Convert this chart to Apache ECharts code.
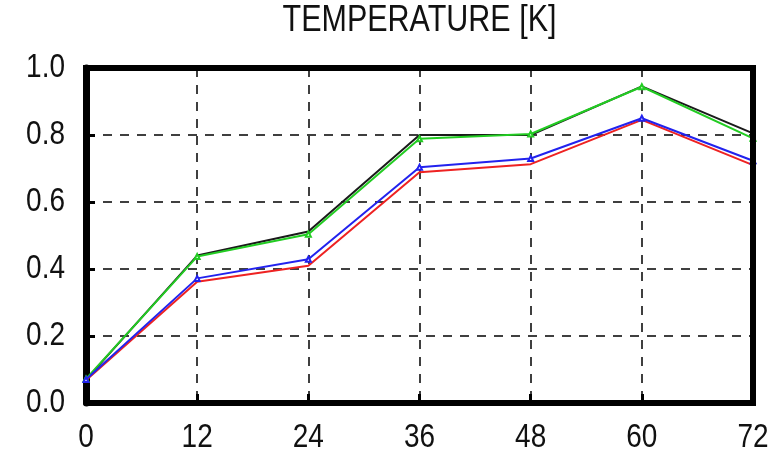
<!DOCTYPE html>
<html>
<head>
<meta charset="utf-8">
<script src="https://cdn.jsdelivr.net/npm/echarts@6/dist/echarts.min.js"></script>
<style>
  html, body { margin: 0; padding: 0; background: #fff; }
  #chart { width: 783px; height: 452px; }
</style>
</head>
<body>
<div id="chart"></div>
<script>
// Forecast lead times (hours)
const leadHours = [0, 12, 24, 36, 48, 60, 72];
const yTicks = [0.0, 0.2, 0.4, 0.6, 0.8, 1.0];
const titleText = 'TEMPERATURE [K]';

// Temperature error curves
const blackSeries = [0.070, 0.440, 0.512, 0.800, 0.800, 0.945, 0.805];
const greenSeries = [0.072, 0.437, 0.504, 0.789, 0.803, 0.944, 0.790];
const redSeries   = [0.068, 0.362, 0.410, 0.689, 0.713, 0.845, 0.710];
const blueSeries  = [0.070, 0.372, 0.429, 0.704, 0.730, 0.850, 0.723];

const pairs = arr => leadHours.map((h, i) => [h, arr[i]]);

const font = '"Liberation Sans", Arial, Helvetica, sans-serif';
const stretch = 1.2;   // tall, narrow lettering

function lineSeries(name, data, color, symbol, z) {
  return {
    name: name,
    type: 'line',
    data: pairs(data),
    z: z,
    symbol: symbol,
    symbolSize: 5,
    showSymbol: symbol !== 'none',
    lineStyle: { color: color, width: 2 },
    itemStyle: { color: color, borderColor: color, borderWidth: 1 },
    animation: false
  };
}

const gridLine = { show: true, lineStyle: { color: '#000', width: 1.5, type: [9, 8] } };

const chart = echarts.init(document.getElementById('chart'));
chart.setOption({
  backgroundColor: '#ffffff',
  animation: false,
  grid: { left: 86, right: 30, top: 68, bottom: 49 },
  xAxis: {
    type: 'value',
    min: 0, max: 72, interval: 12,
    axisLine: { show: true, lineStyle: { color: '#000', width: 6 } },
    axisTick: { show: true, inside: true, length: 9, lineStyle: { color: '#000', width: 3 } },
    axisLabel: { show: false },
    splitLine: gridLine
  },
  yAxis: {
    type: 'value',
    min: 0, max: 1, interval: 0.2,
    axisLine: { show: true, lineStyle: { color: '#000', width: 7 } },
    axisTick: { show: true, inside: true, length: 9, lineStyle: { color: '#000', width: 3 } },
    axisLabel: { show: false },
    splitLine: gridLine
  },
  series: [
    lineSeries('black', blackSeries, '#1a1a1a', 'none', 2),
    lineSeries('green', greenSeries, '#22cc22', 'emptyTriangle', 3),
    lineSeries('red', redSeries, '#ee2222', 'none', 4),
    lineSeries('blue', blueSeries, '#2222ee', 'emptyTriangle', 5)
  ]
});

// Stretched text for title and tick labels, placed through the axis scales
function stretchedText(str, x, y, size, align) {
  return {
    type: 'text',
    x: x, y: y,
    scaleY: stretch,
    silent: true,
    style: {
      text: str,
      x: 0, y: 0,
      fontFamily: font,
      fontSize: size,
      fill: '#111',
      textAlign: align,
      textVerticalAlign: 'middle'
    }
  };
}

const bottomLeft = chart.convertToPixel({ gridIndex: 0 }, [0, 0]);
const topRight = chart.convertToPixel({ gridIndex: 0 }, [72, 1]);
const labels = [];

leadHours.forEach(h => {
  const px = chart.convertToPixel({ gridIndex: 0 }, [h, 0]);
  labels.push(stretchedText(String(h), px[0], bottomLeft[1] + 35, 28, 'center'));
});
yTicks.forEach(v => {
  const px = chart.convertToPixel({ gridIndex: 0 }, [0, v]);
  labels.push(stretchedText(v.toFixed(1), bottomLeft[0] - 21, px[1], 28, 'right'));
});
labels.push(stretchedText(titleText, (bottomLeft[0] + topRight[0]) / 2 + 0, 21, 30.5, 'center'));

chart.setOption({
  graphic: labels.concat([
    // frame on the top and right sides of the plot area
    { type: 'line', silent: true, z: 10,
      shape: { x1: bottomLeft[0] - 3, y1: topRight[1], x2: topRight[0] + 3, y2: topRight[1] },
      style: { stroke: '#000', lineWidth: 6 } },
    { type: 'line', silent: true, z: 10,
      shape: { x1: topRight[0], y1: topRight[1] - 3, x2: topRight[0], y2: bottomLeft[1] + 3 },
      style: { stroke: '#000', lineWidth: 6 } }
  ])
});
</script>
</body>
</html>
